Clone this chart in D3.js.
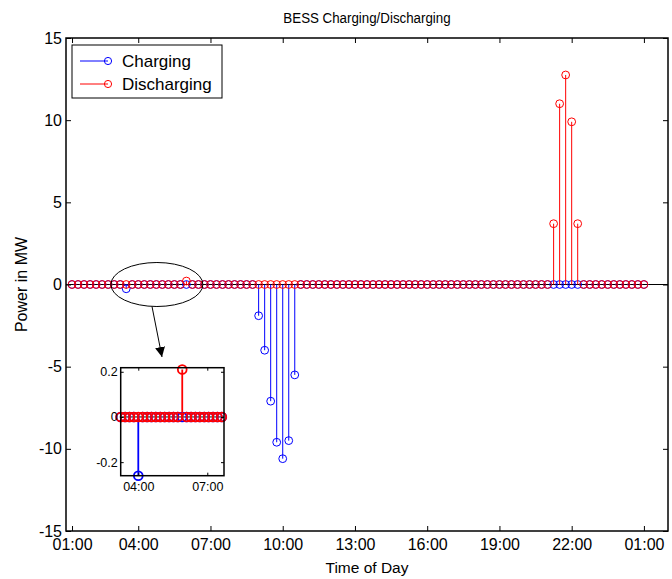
<!DOCTYPE html>
<html>
<head>
<meta charset="utf-8">
<script src="https://cdn.jsdelivr.net/npm/d3@7"></script>
<style>
  body { margin: 0; background: #fff; }
  text { font-family: "Liberation Sans", Arial, sans-serif; fill: #000; }
</style>
</head>
<body>
<svg id="chart" width="672" height="579"></svg>
<script>
// 96 samples, 15 minute steps, index 1 = 01:00
const charging = [
  0, 0, 0, 0, 0, 0, 0, 0, 0, -0.26, 0, 0,
  0, 0, 0, 0, 0, 0, 0, 0, 0, 0, 0, 0,
  0, 0, 0, 0, 0, 0, 0, -1.9, -4.0, -7.1, -9.6, -10.6,
  -9.5, -5.5, 0, 0, 0, 0, 0, 0, 0, 0, 0, 0,
  0, 0, 0, 0, 0, 0, 0, 0, 0, 0, 0, 0,
  0, 0, 0, 0, 0, 0, 0, 0, 0, 0, 0, 0,
  0, 0, 0, 0, 0, 0, 0, 0, 0, 0, 0, 0,
  0, 0, 0, 0, 0, 0, 0, 0, 0, 0, 0, 0
];
const discharging = [
  0, 0, 0, 0, 0, 0, 0, 0, 0, 0, 0, 0,
  0, 0, 0, 0, 0, 0, 0, 0.21, 0, 0, 0, 0,
  0, 0, 0, 0, 0, 0, 0, 0, 0, 0, 0, 0,
  0, 0, 0, 0, 0, 0, 0, 0, 0, 0, 0, 0,
  0, 0, 0, 0, 0, 0, 0, 0, 0, 0, 0, 0,
  0, 0, 0, 0, 0, 0, 0, 0, 0, 0, 0, 0,
  0, 0, 0, 0, 0, 0, 0, 0, 3.7, 11.0, 12.75, 9.9,
  3.7, 0, 0, 0, 0, 0, 0, 0, 0, 0, 0, 0
];
const xTicks = [1, 12, 24, 36, 48, 60, 72, 84, 96];
const xTickLabels = ["01:00", "04:00", "07:00", "10:00", "13:00", "16:00", "19:00", "22:00", "01:00"];
const yTicks = [-15, -10, -5, 0, 5, 10, 15];

// zoomed inset
const insetRange = [6, 29];
const insetTicks = [10, 25.7];
const insetTickLabels = ["04:00", "07:00"];
const insetYTicks = [-0.2, 0, 0.2];
const insetYLabels = ["-0.2", "0", "0.2"];

const seriesNames = ["Charging", "Discharging"];
const colors = ["#0000ff", "#ff0000"];

const svg = d3.select("#chart");
const x = d3.scaleLinear().domain([0, 100]).range([66, 668]);
const y = d3.scaleLinear().domain([-15, 15]).range([531, 38]);

const toPoints = (arr) => arr.map((v, i) => ({ i: i + 1, v }));
const series = [toPoints(charging), toPoints(discharging)];

// baseline at zero
svg.append("line")
  .attr("x1", x(0)).attr("x2", x(100))
  .attr("y1", y(0)).attr("y2", y(0))
  .attr("stroke", "#000").attr("stroke-width", 1);

function drawStems(g, data, xs, ys, color, r, sw) {
  g.selectAll("line.stem")
    .data(data.filter((d) => d.v !== 0))
    .join("line")
    .attr("class", "stem")
    .attr("x1", (d) => xs(d.i)).attr("x2", (d) => xs(d.i))
    .attr("y1", ys(0)).attr("y2", (d) => ys(d.v))
    .attr("stroke", color).attr("stroke-width", sw);
  g.selectAll("circle")
    .data(data)
    .join("circle")
    .attr("cx", (d) => xs(d.i))
    .attr("cy", (d) => ys(d.v))
    .attr("r", r)
    .attr("fill", "none")
    .attr("stroke", color)
    .attr("stroke-width", sw);
}

series.forEach((s, k) => {
  drawStems(svg.append("g"), s, x, y, colors[k], 3.9, 1);
});

// axes, ticks point inward
const xAxis = svg.append("g")
  .attr("transform", `translate(0,${y(-15)})`)
  .call(d3.axisBottom(x).tickValues(xTicks)
    .tickFormat((d, i) => xTickLabels[i]).tickSize(-5).tickSizeOuter(0).tickPadding(8));
svg.append("g")
  .attr("transform", `translate(0,${y(15)})`)
  .call(d3.axisTop(x).tickValues(xTicks).tickFormat("").tickSize(-5).tickSizeOuter(0));
const yAxis = svg.append("g")
  .attr("transform", `translate(${x(0)},0)`)
  .call(d3.axisLeft(y).tickValues(yTicks).tickFormat((d) => String(d))
    .tickSize(-5).tickSizeOuter(0).tickPadding(4));
svg.append("g")
  .attr("transform", `translate(${x(100)},0)`)
  .call(d3.axisRight(y).tickValues(yTicks).tickFormat("").tickSize(-5).tickSizeOuter(0));

svg.selectAll(".domain").remove();
svg.selectAll(".tick line").attr("stroke", "#000");
xAxis.selectAll("text").attr("font-size", 16).attr("font-family", null);
yAxis.selectAll("text").attr("font-size", 16).attr("font-family", null);

svg.append("rect")
  .attr("x", x(0)).attr("y", y(15))
  .attr("width", x(100) - x(0)).attr("height", y(-15) - y(15))
  .attr("fill", "none").attr("stroke", "#000").attr("stroke-width", 1.5);

// titles
svg.append("text")
  .attr("transform", `translate(${(x(0) + x(100)) / 2},23) scale(0.86,1)`)
  .attr("text-anchor", "middle").attr("font-size", 15.5)
  .text("BESS Charging/Discharging");
svg.append("text")
  .attr("x", (x(0) + x(100)) / 2).attr("y", 573)
  .attr("text-anchor", "middle").attr("font-size", 15.5)
  .text("Time of Day");
svg.append("text")
  .attr("transform", `translate(27,${y(0)}) rotate(-90)`)
  .attr("text-anchor", "middle").attr("font-size", 16)
  .text("Power in MW");

// legend
const legend = svg.append("g").attr("transform", "translate(72,45)");
legend.append("rect")
  .attr("width", 150).attr("height", 53)
  .attr("fill", "#fff").attr("stroke", "#000").attr("stroke-width", 1);
seriesNames.forEach((name, k) => {
  const row = legend.append("g").attr("transform", `translate(0,${16 + k * 23})`);
  row.append("line").attr("x1", 8).attr("x2", 36)
    .attr("stroke", colors[k]).attr("stroke-width", 1);
  row.append("circle").attr("cx", 36).attr("r", 3.6)
    .attr("fill", "none").attr("stroke", colors[k]);
  row.append("text").attr("x", 50).attr("y", 6)
    .attr("font-size", 17).text(name);
});

// ellipse and arrow pointing to the inset
const zoomSpot = { i: 15.1, v: 0 };
svg.append("ellipse")
  .attr("cx", x(zoomSpot.i)).attr("cy", y(zoomSpot.v))
  .attr("rx", 46).attr("ry", 22)
  .attr("fill", "none").attr("stroke", "#000").attr("stroke-width", 1);
svg.append("defs").append("marker")
  .attr("id", "arrow").attr("viewBox", "0 0 10 10")
  .attr("refX", 10).attr("refY", 5)
  .attr("markerWidth", 10).attr("markerHeight", 10)
  .attr("markerUnits", "userSpaceOnUse")
  .attr("orient", "auto")
  .append("path").attr("d", "M0,0L10,5L0,10Z").attr("fill", "#000");
svg.append("line")
  .attr("x1", 152).attr("y1", 306.5)
  .attr("x2", 162).attr("y2", 357)
  .attr("stroke", "#000").attr("stroke-width", 1)
  .attr("marker-end", "url(#arrow)");

// inset axes
const ix = d3.scaleLinear().domain([6, 29.5]).range([120.7, 224]);
const iy = d3.scaleLinear().domain([-0.26, 0.218]).range([475.7, 367.7]);
const inset = svg.append("g");
inset.append("rect")
  .attr("x", ix(6)).attr("y", iy(0.218))
  .attr("width", ix(29.5) - ix(6)).attr("height", iy(-0.26) - iy(0.218))
  .attr("fill", "#fff");
inset.append("line")
  .attr("x1", ix(6)).attr("x2", ix(29.5))
  .attr("y1", iy(0)).attr("y2", iy(0))
  .attr("stroke", "#000");
series.forEach((s, k) => {
  const part = s.filter((d) => d.i >= insetRange[0] && d.i <= insetRange[1]);
  drawStems(inset.append("g"), part, ix, iy, colors[k], 4.4, 1.8);
});
const ixAxis = inset.append("g")
  .attr("transform", `translate(0,${iy(-0.26)})`)
  .call(d3.axisBottom(ix).tickValues(insetTicks)
    .tickFormat((d, i) => insetTickLabels[i]).tickSize(-3).tickSizeOuter(0).tickPadding(6));
inset.append("g")
  .attr("transform", `translate(0,${iy(0.218)})`)
  .call(d3.axisTop(ix).tickValues(insetTicks).tickFormat("").tickSize(-3).tickSizeOuter(0));
const iyAxis = inset.append("g")
  .attr("transform", `translate(${ix(6)},0)`)
  .call(d3.axisLeft(iy).tickValues(insetYTicks)
    .tickFormat((d, i) => insetYLabels[i]).tickSize(-3).tickSizeOuter(0).tickPadding(3));
inset.append("g")
  .attr("transform", `translate(${ix(29.5)},0)`)
  .call(d3.axisRight(iy).tickValues(insetYTicks).tickFormat("").tickSize(-3).tickSizeOuter(0));
inset.selectAll(".domain").remove();
inset.selectAll(".tick line").attr("stroke", "#000");
ixAxis.selectAll("text").attr("font-size", 12.5).attr("font-family", null);
iyAxis.selectAll("text").attr("font-size", 12.5).attr("font-family", null);
inset.append("rect")
  .attr("x", ix(6)).attr("y", iy(0.218))
  .attr("width", ix(29.5) - ix(6)).attr("height", iy(-0.26) - iy(0.218))
  .attr("fill", "none").attr("stroke", "#000").attr("stroke-width", 1.5);
</script>
</body>
</html>
